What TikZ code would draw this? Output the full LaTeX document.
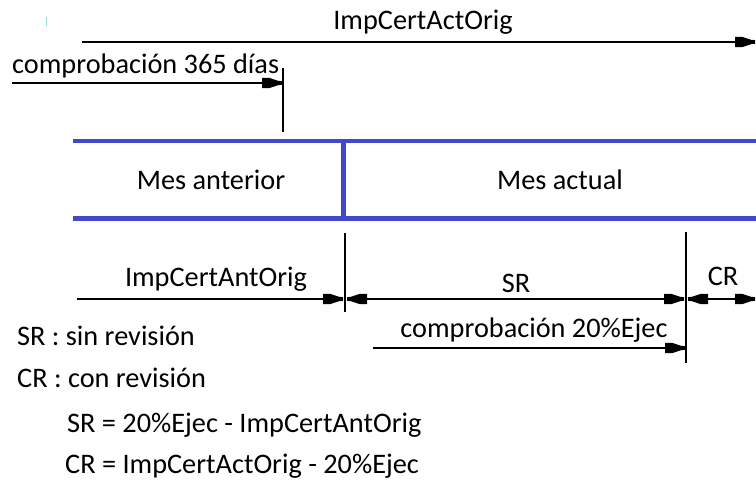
\documentclass[tikz,border=0pt]{standalone}
\usepackage{fontspec}
\setmainfont{Carlito}
\usetikzlibrary{arrows.meta}
\definecolor{barblue}{RGB}{66,72,204}
\definecolor{specks}{RGB}{150,220,235}
\pgfdeclarearrow{
  name=BlockTip,
  parameters={},
  setup code={
    \pgfarrowssettipend{0pt}
    \pgfarrowssetlineend{-14pt}
    \pgfarrowssetbackend{-20pt}
    \pgfarrowshullpoint{0pt}{2pt}
    \pgfarrowshullpoint{0pt}{-2pt}
    \pgfarrowshullpoint{-20pt}{5.5pt}
    \pgfarrowshullpoint{-20pt}{-5.5pt}
  },
  drawing code={
    \pgfpathmoveto{\pgfqpoint{0pt}{1.8pt}}
    \pgfpathlineto{\pgfqpoint{-4pt}{2.2pt}}
    \pgfpathlineto{\pgfqpoint{-13pt}{5.2pt}}
    \pgfpathlineto{\pgfqpoint{-20pt}{5.2pt}}
    \pgfpathlineto{\pgfqpoint{-20pt}{-5.2pt}}
    \pgfpathlineto{\pgfqpoint{-13pt}{-5.2pt}}
    \pgfpathlineto{\pgfqpoint{-4pt}{-2.2pt}}
    \pgfpathlineto{\pgfqpoint{0pt}{-1.8pt}}
    \pgfpathclose
    \pgfusepathqfill
  }
}
\tikzset{
  lbl/.style={inner sep=0pt, font=\fontsize{28.3}{34}\selectfont, text=black},
  dimline/.style={draw=black, line width=1.8pt},
  tipr/.style={-{BlockTip}},
  tiplr/.style={{BlockTip}-{BlockTip}},
  bar/.style={draw=barblue, line width=4.4pt},
  tick/.style={draw=black, line width=1.6pt}
}
\begin{document}
\begin{tikzpicture}[x=1pt,y=-1pt]
\useasboundingbox (0,0) rectangle (756,484);
% faint speck
\draw[specks, line width=1pt] (46,17) -- (46,26);
% top arrow
\coordinate (actS) at (82,42);
\coordinate (actE) at (755,42);
\draw[dimline,tipr] (actS) -- (actE);
\node[lbl, anchor=base] (actL) at (423,30) {ImpCertActOrig};
% 365 days
\coordinate (t365) at (283,68);
\coordinate (b365) at (283,132);
\draw[tick] (t365) -- (b365);
\coordinate (d365S) at (12,83);
\coordinate (d365E) at (282,83);
\draw[dimline,tipr] (d365S) -- (d365E);
\node[lbl, anchor=base west] (l365) at (12,74) {comprobación 365 días};
% blue bars
\coordinate (topL) at (73,141);
\coordinate (topR) at (756,141);
\coordinate (botL) at (73,218.5);
\coordinate (botR) at (756,218.5);
\coordinate (midT) at (343.5,139);
\coordinate (midB) at (343.5,218.5);
\draw[bar] (topL) -- (topR);
\draw[bar] (botL) -- (botR);
\draw[bar] (midT) -- (midB);
\node[lbl] (ant) at (211,179.5) {Mes anterior};
\node[lbl] (act) at (560,179.5) {Mes actual};
% lower ticks
\coordinate (v1T) at (345,233);
\coordinate (v1B) at (345,312);
\coordinate (v2T) at (686,232);
\coordinate (v2B) at (686,363);
\draw[tick] (v1T) -- (v1B);
\draw[tick] (v2T) -- (v2B);
% ImpCertAntOrig
\coordinate (antS) at (77,299);
\coordinate (antE) at (343,299);
\draw[dimline,tipr] (antS) -- (antE);
\node[lbl, anchor=base] (antL) at (216,287) {ImpCertAntOrig};
% SR
\coordinate (srS) at (347,299);
\coordinate (srE) at (684,299);
\draw[dimline,tiplr] (srS) -- (srE);
\node[lbl, anchor=base] (srL) at (516,292) {SR};
% CR
\coordinate (crS) at (688,299);
\coordinate (crE) at (755,299);
\draw[dimline,tiplr] (crS) -- (crE);
\node[lbl, anchor=base] (crL) at (723,286) {CR};
% 20%
\coordinate (pS) at (373,348);
\coordinate (pE) at (685,348);
\draw[dimline,tipr] (pS) -- (pE);
\node[lbl, anchor=base] (pL) at (534,337) {comprobación 20\%Ejec};
% legend
\node[lbl, anchor=base west] (leg1) at (17,345) {SR : sin revisión};
\node[lbl, anchor=base west] (leg2) at (17,387) {CR : con revisión};
\node[lbl, anchor=base west] (eq1) at (67,432) {SR = 20\%Ejec - ImpCertAntOrig};
\node[lbl, anchor=base west] (eq2) at (65,473) {CR = ImpCertActOrig - 20\%Ejec};
\end{tikzpicture}
\end{document}
